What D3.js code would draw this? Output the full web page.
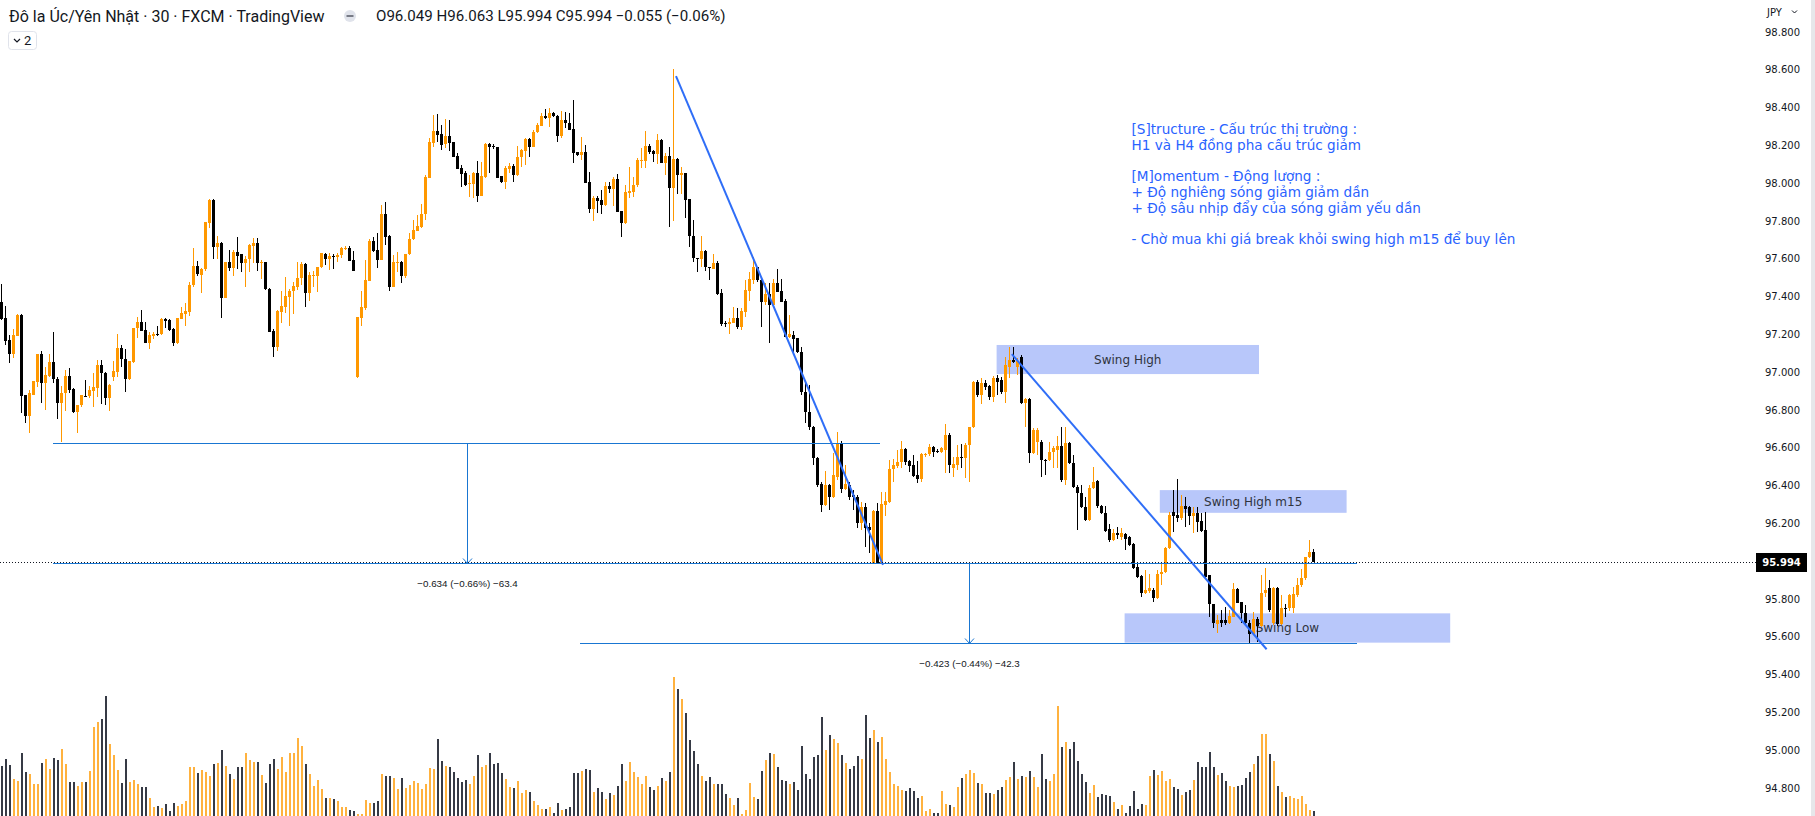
<!DOCTYPE html>
<html><head><meta charset="utf-8">
<script src="https://cdn.jsdelivr.net/npm/d3@7"></script>
<style>
html,body{margin:0;padding:0;background:#fff;overflow:hidden;}
svg{display:block;}
</style></head><body>
<svg id="c" width="1815" height="816"></svg>
<script>
// ---- DATA (AUD/JPY 30m, FXCM) ----
const openP=[
97.369,97.288,97.170,97.094,97.193,97.302,96.879,96.769,96.879,96.949,
97.096,96.940,96.979,97.051,96.963,96.834,96.887,96.979,96.909,96.790,
96.826,96.875,96.875,96.902,96.917,97.037,96.993,96.865,96.972,97.002,
97.129,97.067,96.963,97.055,97.231,97.267,97.222,97.155,97.193,97.201,
97.200,97.281,97.275,97.228,97.155,97.281,97.307,97.320,97.461,97.561,
97.513,97.545,97.790,97.910,97.663,97.681,97.394,97.581,97.552,97.637,
97.623,97.579,97.596,97.669,97.685,97.575,97.581,97.439,97.217,97.134,
97.320,97.346,97.399,97.429,97.452,97.496,97.572,97.420,97.510,97.510,
97.554,97.625,97.596,97.616,97.611,97.620,97.653,97.658,97.593,96.976,
97.288,97.337,97.484,97.693,97.646,97.593,97.836,97.722,97.452,97.579,
97.584,97.510,97.623,97.702,97.748,97.769,97.835,98.029,98.214,98.275,
98.260,98.205,98.249,98.215,98.143,98.081,98.055,97.993,97.993,98.055,
97.932,98.034,98.205,98.198,98.189,98.037,98.007,98.076,98.090,98.043,
98.136,98.171,98.233,98.193,98.268,98.302,98.355,98.346,98.371,98.355,
98.251,98.334,98.316,98.284,98.164,98.148,98.164,98.006,97.863,97.921,
97.910,97.884,97.984,97.969,98.023,97.850,97.790,97.949,97.954,97.990,
98.118,98.118,98.196,98.171,98.154,98.228,98.104,98.143,97.972,98.126,
98.043,98.051,97.914,97.720,97.603,97.596,97.641,97.556,97.547,97.575,
97.417,97.261,97.252,97.261,97.288,97.240,97.320,97.431,97.487,97.554,
97.487,97.372,97.413,97.355,97.469,97.429,97.378,97.184,97.196,97.178,
97.108,96.894,96.788,96.709,96.545,96.407,96.296,96.402,96.338,96.444,
96.624,96.381,96.402,96.349,96.338,96.201,96.285,96.180,95.992,96.264,
95.992,96.296,96.312,96.487,96.502,96.524,96.592,96.529,96.508,96.455,
96.434,96.561,96.566,96.603,96.582,96.576,96.587,96.666,96.492,96.508,
96.550,96.545,96.614,96.709,96.947,96.878,96.942,96.926,96.868,96.968,
96.957,96.894,97.026,97.063,97.026,97.079,96.836,96.857,96.571,96.629,
96.629,96.534,96.534,96.576,96.587,96.608,96.428,96.624,96.518,96.391,
96.360,96.285,96.217,96.386,96.423,96.291,96.254,96.169,96.111,96.148,
96.127,96.143,96.127,96.090,95.968,95.920,95.830,95.841,95.846,95.804,
95.930,95.943,96.067,96.261,96.243,96.226,96.291,96.287,96.238,96.252,
96.211,96.164,95.926,95.772,95.666,95.688,95.688,95.670,95.705,95.850,
95.784,95.726,95.673,95.612,95.691,95.656,95.829,95.858,95.670,95.858,
95.666,95.753,95.749,95.749,95.820,95.873,95.908,96.019,96.049];
const highP=[
97.464,97.349,97.196,97.226,97.305,97.305,96.879,96.905,96.953,97.096,
97.111,97.029,97.096,97.210,96.976,96.926,97.011,97.020,96.914,96.826,
96.879,96.958,96.928,96.997,97.064,97.064,97.002,96.935,97.060,97.201,
97.143,97.120,97.058,97.235,97.293,97.328,97.267,97.214,97.214,97.244,
97.288,97.284,97.279,97.231,97.288,97.346,97.364,97.475,97.655,97.588,
97.549,97.796,97.914,97.916,97.720,97.686,97.584,97.646,97.646,97.713,
97.626,97.614,97.676,97.707,97.707,97.593,97.584,97.443,97.228,97.328,
97.429,97.501,97.438,97.475,97.581,97.581,97.575,97.531,97.535,97.558,
97.632,97.628,97.628,97.623,97.628,97.663,97.667,97.667,97.641,97.293,
97.429,97.593,97.702,97.713,97.734,97.884,97.898,97.725,97.619,97.637,
97.589,97.625,97.737,97.805,97.831,97.889,98.043,98.237,98.360,98.364,
98.307,98.339,98.334,98.219,98.157,98.096,98.066,98.043,98.057,98.117,
98.113,98.210,98.210,98.205,98.192,98.039,98.090,98.104,98.101,98.198,
98.178,98.237,98.240,98.281,98.316,98.369,98.390,98.399,98.378,98.358,
98.381,98.378,98.372,98.439,98.166,98.242,98.201,98.057,97.933,97.933,
97.963,98.007,98.004,98.034,98.048,97.852,97.990,98.083,98.034,98.134,
98.187,98.275,98.207,98.175,98.260,98.231,98.161,98.189,98.603,98.131,
98.083,98.055,97.917,97.805,97.605,97.720,97.646,97.558,97.625,97.588,
97.438,97.272,97.288,97.342,97.337,97.337,97.487,97.531,97.607,97.558,
97.491,97.469,97.469,97.491,97.545,97.491,97.385,97.302,97.217,97.182,
97.134,96.952,96.931,96.714,96.550,96.418,96.476,96.407,96.571,96.682,
96.635,96.508,96.418,96.375,96.349,96.312,96.307,96.201,96.270,96.307,
96.365,96.365,96.534,96.539,96.587,96.635,96.598,96.534,96.561,96.529,
96.571,96.571,96.619,96.608,96.592,96.603,96.725,96.677,96.550,96.614,
96.619,96.624,96.709,96.952,96.957,96.968,96.957,96.931,96.979,96.984,
96.973,97.079,97.132,97.132,97.074,97.090,96.862,96.862,96.703,96.703,
96.640,96.539,96.629,96.608,96.661,96.709,96.709,96.629,96.561,96.402,
96.402,96.338,96.402,96.497,96.428,96.296,96.291,96.196,96.169,96.180,
96.174,96.148,96.132,96.095,95.989,95.926,95.952,95.931,95.857,95.952,
95.996,96.075,96.261,96.375,96.432,96.349,96.340,96.291,96.287,96.287,
96.255,96.261,95.926,95.772,95.714,95.741,95.758,95.741,95.882,95.855,
95.784,95.767,95.688,95.731,95.705,95.926,95.961,95.899,95.864,95.864,
95.820,95.772,95.825,95.864,95.908,95.956,96.023,96.111,96.063];
const lowP=[
97.275,97.141,97.046,97.073,97.190,96.782,96.729,96.679,96.879,96.923,
96.838,96.799,96.976,96.940,96.750,96.632,96.794,96.887,96.782,96.679,
96.817,96.866,96.861,96.817,96.870,96.831,96.826,96.794,96.954,96.976,
97.029,96.896,96.958,97.050,97.182,97.217,97.155,97.122,97.173,97.193,
97.196,97.231,97.217,97.140,97.147,97.280,97.245,97.298,97.452,97.510,
97.420,97.535,97.764,97.598,97.596,97.288,97.390,97.536,97.510,97.545,
97.531,97.452,97.531,97.575,97.535,97.492,97.434,97.210,97.078,97.113,
97.261,97.311,97.245,97.307,97.434,97.461,97.346,97.378,97.452,97.425,
97.549,97.566,97.540,97.543,97.584,97.602,97.646,97.588,97.535,96.970,
97.244,97.330,97.480,97.637,97.549,97.590,97.672,97.431,97.450,97.528,
97.469,97.499,97.620,97.699,97.745,97.760,97.805,98.025,98.193,98.219,
98.175,98.187,98.171,98.140,98.076,97.981,97.984,97.928,97.923,97.902,
97.930,98.029,98.055,98.178,98.029,97.999,97.967,98.051,98.007,98.039,
98.087,98.096,98.140,98.190,98.263,98.300,98.337,98.298,98.351,98.219,
98.240,98.290,98.281,98.108,98.143,98.122,98.002,97.840,97.801,97.843,
97.836,97.879,97.949,97.879,97.849,97.716,97.783,97.919,97.924,97.981,
98.078,98.078,98.154,98.113,98.099,98.104,98.043,97.769,97.801,97.942,
97.942,97.817,97.663,97.582,97.531,97.558,97.535,97.487,97.543,97.408,
97.244,97.240,97.200,97.258,97.226,97.222,97.293,97.376,97.466,97.478,
97.240,97.355,97.152,97.349,97.425,97.372,97.184,97.178,97.104,97.103,
96.878,96.730,96.693,96.508,96.391,96.259,96.291,96.270,96.333,96.428,
96.360,96.375,96.323,96.270,96.174,96.164,96.074,96.042,95.989,95.989,
95.989,96.238,96.307,96.418,96.492,96.492,96.508,96.471,96.444,96.412,
96.418,96.550,96.555,96.550,96.571,96.571,96.465,96.465,96.444,96.481,
96.492,96.439,96.418,96.703,96.868,96.830,96.904,96.852,96.841,96.878,
96.883,96.836,96.968,97.047,96.984,96.830,96.709,96.518,96.566,96.561,
96.444,96.455,96.529,96.492,96.492,96.418,96.402,96.513,96.386,96.164,
96.280,96.211,96.211,96.381,96.280,96.249,96.153,96.100,96.106,96.116,
96.111,96.058,96.079,95.957,95.910,95.809,95.825,95.830,95.783,95.799,
95.873,95.936,96.062,96.155,96.208,96.217,96.181,96.190,96.146,96.155,
96.153,95.908,95.705,95.644,95.617,95.652,95.661,95.666,95.703,95.776,
95.670,95.668,95.559,95.608,95.570,95.651,95.811,95.732,95.661,95.657,
95.661,95.705,95.737,95.723,95.811,95.864,95.899,96.014,95.994];
const closeP=[
97.279,97.166,97.094,97.196,97.302,96.875,96.769,96.887,96.953,97.096,
96.940,96.984,97.051,96.961,96.834,96.887,96.979,96.905,96.790,96.826,
96.879,96.870,96.905,96.919,97.037,96.993,96.865,96.932,97.006,97.129,
97.067,96.963,97.058,97.235,97.267,97.217,97.155,97.196,97.201,97.194,
97.281,97.272,97.222,97.155,97.288,97.311,97.323,97.461,97.561,97.517,
97.545,97.796,97.910,97.663,97.685,97.394,97.584,97.552,97.637,97.616,
97.579,97.598,97.672,97.685,97.575,97.581,97.438,97.214,97.134,97.323,
97.349,97.402,97.429,97.457,97.496,97.572,97.420,97.513,97.513,97.554,
97.628,97.596,97.614,97.611,97.620,97.658,97.658,97.589,97.535,97.293,
97.346,97.487,97.695,97.641,97.593,97.836,97.716,97.452,97.581,97.584,
97.510,97.625,97.704,97.752,97.773,97.836,98.034,98.219,98.275,98.254,
98.201,98.249,98.214,98.140,98.076,98.048,97.990,98.002,98.055,97.932,
98.037,98.207,98.192,98.192,98.029,98.007,98.078,98.090,98.043,98.136,
98.175,98.233,98.189,98.268,98.305,98.355,98.346,98.369,98.353,98.251,
98.334,98.316,98.281,98.161,98.148,98.164,98.002,97.863,97.921,97.907,
97.884,97.984,97.969,98.023,97.849,97.790,97.954,97.958,97.990,98.122,
98.122,98.196,98.166,98.154,98.228,98.104,98.143,97.972,98.126,98.043,
98.051,97.910,97.720,97.602,97.598,97.641,97.554,97.549,97.579,97.413,
97.254,97.252,97.267,97.288,97.240,97.323,97.434,97.491,97.554,97.487,
97.372,97.413,97.355,97.469,97.425,97.372,97.184,97.200,97.173,97.108,
96.894,96.788,96.709,96.545,96.402,96.296,96.402,96.338,96.455,96.624,
96.381,96.407,96.338,96.338,96.201,96.285,96.174,96.164,96.264,95.992,
96.301,96.317,96.487,96.508,96.524,96.592,96.524,96.502,96.450,96.434,
96.566,96.566,96.603,96.576,96.576,96.598,96.666,96.508,96.513,96.550,
96.545,96.614,96.709,96.947,96.878,96.942,96.920,96.868,96.968,96.947,
96.894,97.037,97.063,97.053,97.058,96.836,96.857,96.571,96.693,96.693,
96.534,96.529,96.576,96.598,96.608,96.428,96.624,96.518,96.391,96.360,
96.285,96.217,96.386,96.418,96.291,96.254,96.158,96.111,96.148,96.137,
96.148,96.116,96.084,95.963,95.915,95.830,95.846,95.857,95.804,95.931,
95.943,96.070,96.243,96.239,96.226,96.291,96.273,96.238,96.252,96.208,
96.158,95.917,95.772,95.670,95.688,95.673,95.670,95.710,95.850,95.779,
95.723,95.670,95.612,95.691,95.656,95.829,95.846,95.741,95.858,95.666,
95.749,95.749,95.820,95.824,95.873,95.908,96.019,96.049,95.994];
const volume=[
150,171,153,111,105,189,132,126,96,96,
159,171,141,174,168,201,156,102,102,90,
102,102,135,267,282,291,360,216,183,138,
99,171,102,108,96,87,87,54,27,30,
24,36,15,39,30,36,45,147,147,129,
138,132,120,156,159,198,150,126,111,147,
147,189,168,163,162,123,99,156,171,141,
177,132,189,189,234,210,156,126,90,108,
81,54,54,51,45,27,27,18,15,6,
6,48,39,39,45,126,120,120,114,81,
114,84,93,105,99,81,96,144,141,231,
165,150,147,132,114,102,108,96,120,183,
147,153,189,156,159,129,111,87,84,105,
69,78,72,45,33,21,21,27,9,39,
18,21,27,129,129,135,141,138,72,84,
72,51,69,63,90,156,105,162,132,117,
96,120,87,78,90,114,105,132,417,381,
351,309,228,195,156,120,105,117,96,96,
96,66,54,33,54,6,18,99,57,51,
135,168,189,186,147,108,105,96,102,78,
210,126,111,177,183,297,198,243,231,219,
183,159,141,150,180,171,303,234,258,222,
237,171,132,96,90,78,75,84,75,54,
60,15,21,9,9,75,36,33,27,87,
114,126,138,129,99,96,69,69,66,78,
87,108,117,162,111,120,117,135,117,87,
186,111,105,126,330,207,222,201,222,165,
126,102,69,93,57,66,63,60,42,21,
33,9,30,75,21,36,33,120,138,123,
135,105,111,87,81,63,72,78,108,162,
147,147,192,147,123,129,105,90,87,90,
93,114,132,156,180,246,246,186,165,90,
72,57,60,54,51,60,36,18,15];
const priceTicks=[98.8,98.6,98.4,98.2,98.0,97.8,97.6,97.4,97.2,97.0,96.8,96.6,96.4,96.2,96.0,95.8,95.6,95.4,95.2,95.0,94.8];
const lastPrice=95.994;
// drawings (bar index, price)
const boxLabels=['Swing High','Swing High m15','Swing Low'];
const boxStart=[248.8,289.6,280.8];
const boxEnd=[314.4,336.3,362.2];
const boxTop=[97.143,96.375,95.723];
const boxBottom=[96.989,96.255,95.568];
const trendStartIdx=[168.65,252.6], trendStartPrice=[98.566,97.095];
const trendEndIdx=[220.4,316.3], trendEndPrice=[95.979,95.533];
const rangeStart=[12.9,144.65], rangeEnd=[219.65,338.9];
const rangeFrom=[96.623,95.989], rangeTo=[95.989,95.566];
const rangeLabels=['\u22120.634 (\u22120.66%) \u221263.4','\u22120.423 (\u22120.44%) \u221242.3'];
const noteLines=['[S]tructure - Cấu trúc thị trường :','H1 và H4 đồng pha cấu trúc giảm','','[M]omentum - Động lượng :','+ Độ nghiêng sóng giảm giảm dần','+ Độ sâu nhịp đẩy của sóng giảm yếu dần','','- Chờ mua khi giá break khỏi swing high m15 để buy lên'];
const titleText='Đô la Úc/Yên Nhật · 30 · FXCM · TradingView';
const ohlcText='O96.049 H96.063 L95.994 C95.994 \u22120.055 (\u22120.06%)';

// ---- CHART ----
const svg=d3.select('#c');
const x=d3.scaleLinear().domain([-0.35,437.15]).range([0,1750]);
const y=d3.scaleLinear().domain([94.8,98.8]).range([787.8,31.8]);
const vy=d3.scaleLinear().domain([0,417]).range([816,677]);
const UP='#ff9800',DN='#000000',VUP='#ffb23f',VDN='#363a45';
const isUp=i=>closeP[i]>=openP[i];

svg.append('defs').append('clipPath').attr('id','plot').append('rect').attr('x',0).attr('y',0).attr('width',1752).attr('height',816);
const g=svg.append('g').attr('clip-path','url(#plot)');

// volume
g.append('g').selectAll('rect').data(volume).join('rect')
 .attr('x',(d,i)=>Math.floor(x(i))).attr('width',2)
 .attr('y',d=>Math.round(vy(d))).attr('height',d=>816-Math.round(vy(d)))
 .attr('fill',(d,i)=>isUp(i)?VUP:VDN);

// boxes (behind candles)
const bx=g.append('g');
boxLabels.forEach((lab,k)=>{
  const x0=x(boxStart[k]),x1=x(boxEnd[k]),y0=y(boxTop[k]),y1=y(boxBottom[k]);
  bx.append('rect').attr('x',x0).attr('y',y0).attr('width',x1-x0).attr('height',y1-y0).attr('fill','#b8c7fa');
  bx.append('text').attr('x',(x0+x1)/2).attr('y',(y0+y1)/2).attr('dy','0.36em').attr('text-anchor','middle')
    .attr('font-family','DejaVu Sans').attr('font-size',12).attr('fill','#2f3440').text(lab);
});

// candles
const cg=g.append('g');
const idx=d3.range(openP.length);
cg.selectAll('rect.w').data(idx).join('rect').attr('class','w')
 .attr('x',i=>Math.floor(x(i))).attr('width',1)
 .attr('y',i=>Math.round(y(highP[i]))).attr('height',i=>Math.max(1,Math.round(y(lowP[i]))-Math.round(y(highP[i]))))
 .attr('fill',i=>isUp(i)?UP:DN);
cg.selectAll('rect.b').data(idx).join('rect').attr('class','b')
 .attr('x',i=>Math.floor(x(i))-1).attr('width',3)
 .attr('y',i=>Math.round(y(Math.max(openP[i],closeP[i]))))
 .attr('height',i=>Math.max(1,Math.round(y(Math.min(openP[i],closeP[i])))-Math.round(y(Math.max(openP[i],closeP[i])))))
 .attr('fill',i=>isUp(i)?UP:DN);

// last price dotted line
svg.append('line').attr('x1',0).attr('x2',1756).attr('y1',Math.round(y(lastPrice))+0.5).attr('y2',Math.round(y(lastPrice))+0.5)
 .attr('stroke','#131722').attr('stroke-width',1).attr('stroke-dasharray','1 2');

// price ranges
const rg=g.append('g');
rangeLabels.forEach((lab,k)=>{
  const x0=x(rangeStart[k]),x1=x(rangeEnd[k]),ya=Math.round(y(rangeFrom[k]))+0.5,yb=Math.round(y(rangeTo[k]))+0.5;
  const xm=Math.round((x0+x1)/2)+0.5;
  rg.append('line').attr('x1',x0).attr('x2',x1).attr('y1',ya).attr('y2',ya).attr('stroke','#1976d2').attr('stroke-width',1);
  rg.append('line').attr('x1',x0).attr('x2',x1).attr('y1',yb).attr('y2',yb).attr('stroke','#1976d2').attr('stroke-width',1);
  rg.append('line').attr('x1',xm).attr('x2',xm).attr('y1',ya).attr('y2',yb).attr('stroke','#1976d2').attr('stroke-width',1);
  rg.append('polyline').attr('points',`${xm-4.5},${yb-5} ${xm},${yb} ${xm+4.5},${yb-5}`).attr('fill','none').attr('stroke','#1976d2').attr('stroke-width',1);
  rg.append('text').attr('x',xm).attr('y',yb+20).attr('dy','0.35em').attr('text-anchor','middle')
    .attr('font-family','Liberation Sans').attr('font-size',9.8).attr('fill','#131722').text(lab);
});

// trend lines
trendStartIdx.forEach((s,k)=>{
  g.append('line').attr('x1',x(s)).attr('y1',y(trendStartPrice[k])).attr('x2',x(trendEndIdx[k])).attr('y2',y(trendEndPrice[k]))
   .attr('stroke','#2f6ef7').attr('stroke-width',2);
});

// annotation
const nt=svg.append('g');
noteLines.forEach((t,k)=>{ if(!t) return;
  nt.append('text').attr('x',1131.5).attr('y',129+k*15.8).attr('dy','0.36em')
   .attr('font-family','DejaVu Sans').attr('font-size',13.6).attr('fill','#2962ff').text(t);
});

// price axis
const ax=svg.append('g').attr('transform','translate(1765,0)')
 .call(d3.axisRight(y).tickValues(priceTicks).tickFormat(d3.format('.3f')).tickSize(0).tickPadding(0));
ax.select('.domain').remove();
ax.selectAll('text').attr('font-family','DejaVu Sans').attr('font-size',10).attr('fill','#131722');
svg.append('text').attr('x',1767).attr('y',12).attr('dy','0.35em').attr('font-family','DejaVu Sans').attr('font-size',10).attr('fill','#131722').text('JPY');
svg.append('polyline').attr('points','1792,10.5 1794.5,13 1797,10.5').attr('fill','none').attr('stroke','#131722').attr('stroke-width',1);
svg.append('rect').attr('x',1811).attr('y',0).attr('width',4).attr('height',816).attr('fill','#e6e7ea');
const ly=Math.round(y(lastPrice));
svg.append('rect').attr('x',1756).attr('y',ly-9).attr('width',51).attr('height',19).attr('fill','#000');
svg.append('text').attr('x',1781.5).attr('y',ly+0.5).attr('dy','0.36em').attr('text-anchor','middle')
 .attr('font-family','DejaVu Sans').attr('font-weight','bold').attr('font-size',10).attr('fill','#fff').text(d3.format('.3f')(lastPrice));

// header
svg.append('text').attr('x',9).attr('y',16).attr('dy','0.36em').attr('font-family','Roboto').attr('font-size',16).attr('fill','#131722').text(titleText);
svg.append('circle').attr('cx',350).attr('cy',16).attr('r',6).attr('fill','#e0e3eb');
svg.append('line').attr('x1',346.5).attr('x2',353.5).attr('y1',16).attr('y2',16).attr('stroke','#787b86').attr('stroke-width',2);
svg.append('text').attr('x',376).attr('y',16).attr('dy','0.36em').attr('font-family','Roboto').attr('font-size',15.1).attr('fill','#131722').text(ohlcText);
svg.append('rect').attr('x',8.5).attr('y',31.5).attr('width',28).attr('height',18).attr('rx',3).attr('fill','#fff').attr('stroke','#e0e3eb');
svg.append('polyline').attr('points','14,39 17,42 20,39').attr('fill','none').attr('stroke','#131722').attr('stroke-width',1.2);
svg.append('text').attr('x',24).attr('y',40.5).attr('dy','0.36em').attr('font-family','Roboto').attr('font-size',13).attr('fill','#131722').text('2');
</script>
</body></html>
